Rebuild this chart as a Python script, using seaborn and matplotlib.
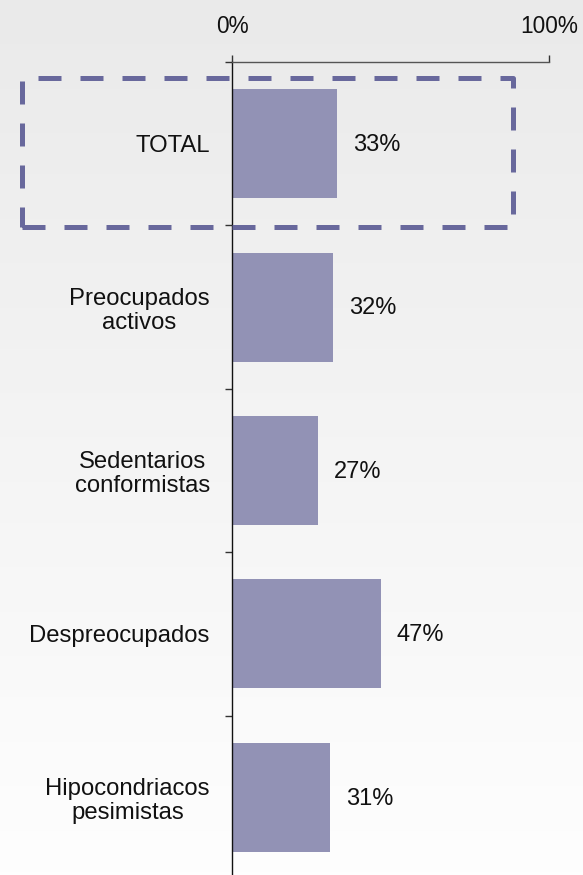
import matplotlib
matplotlib.use('Agg')
import matplotlib.pyplot as plt
import seaborn as sns
import numpy as np
import pandas as pd
from matplotlib.patches import Rectangle
from matplotlib.colors import LinearSegmentedColormap

categories = ["TOTAL", "Preocupados\nactivos", "Sedentarios\nconformistas",
              "Despreocupados", "Hipocondriacos\npesimistas"]
values = [33, 32, 27, 47, 31]
value_labels = ["33%", "32%", "27%", "47%", "31%"]
xtick_values = [0, 100]
xtick_labels = ["0%", "100%"]

sns.set_theme(style="white")
plt.rcParams['font.family'] = ['Liberation Sans', 'DejaVu Sans']

W, H = 583, 875
fig = plt.figure(figsize=(W / 100, H / 100), dpi=100)

# background gradient
bg = fig.add_axes([0, 0, 1, 1], zorder=0)
grad = np.linspace(0, 1, 256).reshape(-1, 1)
cmap = LinearSegmentedColormap.from_list('bg', ['#eaeaea', '#fefefe'])
bg.imshow(grad, aspect='auto', cmap=cmap, extent=[0, 1, 0, 1], origin='upper')
bg.set_axis_off()

ax = fig.add_axes([232 / W, 1 - 879 / H, (549 - 232) / W, (879 - 62) / H], zorder=1)
ax.patch.set_alpha(0)
df = pd.DataFrame({'cat': categories, 'val': values})
sns.barplot(data=df, x='val', y='cat', ax=ax, color='#9292b5', width=0.667,
            saturation=1, edgecolor='none', orient='h')

ax.set_xlim(0, 100)
ax.set_ylim(4.5, -0.5)
ax.set_xlabel('')
ax.set_ylabel('')

ax.xaxis.tick_top()
ax.set_xticks(xtick_values)
ax.set_xticklabels(xtick_labels)
ax.tick_params(axis='x', direction='out', length=5, width=1, color='#333333',
               pad=12, labelsize=16.3, labelcolor='#111111')

ax.set_yticks(range(len(categories)))
ax.set_yticklabels(categories)
ax.set_yticks(np.arange(-0.5, len(categories), 1), minor=True)
ax.tick_params(axis='y', which='major', length=0, pad=16, labelsize=17.2,
               labelcolor='#111111')
ax.tick_params(axis='y', which='minor', length=5, width=1, color='#333333',
               direction='out', left=True)
for lab in ax.get_yticklabels():
    lab.set_multialignment('center')
    lab.set_linespacing(1.12)

for s in ['right', 'bottom']:
    ax.spines[s].set_visible(False)
ax.spines['left'].set_color('#111111')
ax.spines['left'].set_linewidth(1)
ax.spines['top'].set_color('#555555')
ax.spines['top'].set_linewidth(1)

for i, (v, lab) in enumerate(zip(values, value_labels)):
    ax.annotate(lab, xy=(v, i), xytext=(11.5, -1), textcoords='offset points',
                va='center', ha='left', fontsize=17, color='#111111')

rect = Rectangle((22 / W, 1 - 227 / H), 491 / W, 149 / H, transform=fig.transFigure,
                 fill=False, edgecolor='#68689c', linewidth=3.6,
                 linestyle=(0, (4.6, 3.8)), joinstyle='round', capstyle='butt',
                 zorder=3)
fig.add_artist(rect)

fig.savefig('out.png', dpi=100)
